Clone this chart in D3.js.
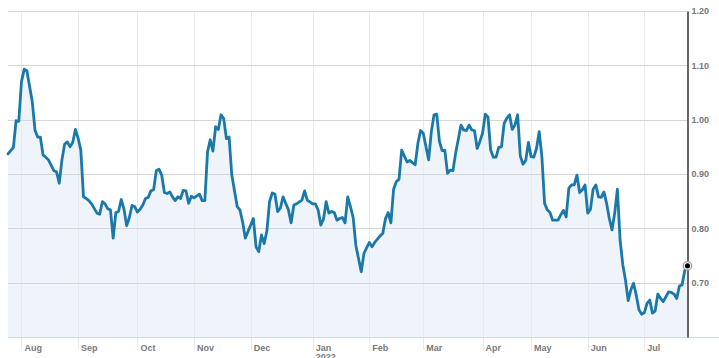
<!DOCTYPE html>
<html><head><meta charset="utf-8">
<script src="https://cdn.jsdelivr.net/npm/d3@7"></script>
<style>html,body{margin:0;padding:0;background:#fff;overflow:hidden}svg{display:block}</style>
</head><body><svg id="c" width="719" height="358"></svg>
<script>
// trading-session index of each point and its price
const sessions = [0,2,3,4,5,6,7,9,10,11,12,13,14,15,17,18,19,20,21,22,23,24,25,26,27,28,29,30,31,33,34,35,36,37,38,39,40,41,42,43,44,45,46,47,48,49,50,51,52,53,54,55,56,57,58,59,60,61,62,63,64,65,66,67,68,69,71,72,73,74,75,76,77,78,79,80,81,82,83,85,86,87,88,89,91,92,93,94,95,96,97,98,99,100,101,102,104,105,106,107,109,110,111,113,114,115,116,117,118,119,120,121,122,123,124,125,126,127,128,129,131,132,134,135,136,138,139,140,141,142,143,144,145,146,148,149,150,151,152,153,154,156,157,158,159,160,161,162,163,164,165,166,167,168,169,170,171,172,173,174,175,176,177,178,179,180,181,182,183,184,185,186,187,188,189,190,191,192,193,194,195,196,197,198,199,200,201,202,204,205,206,207,208,209,210,211,212,213,214,215,216,217,218,219,220,221,222,223,224,225,226,227,228,229,230,231,232,233,234,235,236,237,238,239,240,241,242,243,244,245,246,247,248,249,250,251,252];
const prices = [.937,.949,.998,.997,1.070,1.093,1.090,1.033,.981,.968,.968,.935,.931,.926,.906,.904,.883,.926,.955,.959,.950,.958,.982,.966,.944,.858,.855,.851,.845,.828,.826,.849,.845,.836,.834,.782,.829,.831,.853,.836,.805,.820,.842,.840,.830,.835,.843,.855,.857,.869,.871,.906,.909,.898,.866,.864,.867,.858,.851,.858,.855,.870,.869,.846,.859,.856,.863,.851,.851,.941,.963,.942,.987,.982,1.009,1.002,.965,.968,.898,.840,.834,.812,.782,.794,.818,.766,.757,.788,.772,.795,.849,.865,.863,.831,.837,.858,.834,.810,.843,.845,.852,.869,.852,.845,.845,.834,.806,.817,.849,.828,.831,.829,.815,.818,.820,.810,.858,.840,.820,.769,.720,.754,.774,.766,.774,.786,.791,.818,.829,.810,.872,.886,.890,.944,.922,.925,.921,.917,.956,.980,.975,.926,.978,1.009,1.010,.960,.943,.944,.901,.907,.906,.938,.964,.990,.981,.980,.990,.981,.980,.947,.960,.975,1.010,1.005,.944,.931,.931,.949,.950,.993,1.003,1.009,.982,.990,1.009,.933,.918,.925,.958,.932,.931,.947,.978,.932,.846,.834,.829,.815,.815,.825,.833,.821,.874,.880,.880,.898,.866,.871,.880,.828,.835,.872,.880,.858,.857,.867,.846,.818,.797,.828,.872,.779,.733,.705,.667,.687,.699,.677,.650,.642,.645,.662,.668,.644,.648,.679,.671,.665,.674,.683,.682,.679,.671,.694,.696,.723,.731];
const monthLabels = ["Aug","Sep","Oct","Nov","Dec","Jan","Feb","Mar","Apr","May","Jun","Jul"];
const monthSessions = [5,26,48,69,90,113,134,154,176,194,215,236];
const yearLabel = {month:"Jan", text:"2022"};
const yTicks = [0.70,0.80,0.90,1.00,1.10,1.20];

const svg = d3.select("#c");
const x = d3.scaleLinear().domain([0,252]).range([8,687.5]);
const y = d3.scaleLinear().domain([0.6,1.2]).range([337,11]);
const data = sessions.map((s,i)=>({s, v:prices[i]}));

// area
svg.append("path").datum(data)
  .attr("fill","#eef4f9")
  .attr("d", d3.area().x(d=>x(d.s)).y0(y(0.6)).y1(d=>y(d.v)));

// vertical grid
svg.append("g").selectAll("line").data(monthSessions).join("line")
  .attr("x1",d=>Math.round(x(d))+0.5).attr("x2",d=>Math.round(x(d))+0.5)
  .attr("y1",y(1.2)).attr("y2",350)
  .attr("stroke","#e8ebee").attr("stroke-width",1);

// horizontal grid
svg.append("g").selectAll("line").data(yTicks).join("line")
  .attr("x1",x(0)).attr("x2",x(252))
  .attr("y1",d=>Math.round(y(d))+0.5).attr("y2",d=>Math.round(y(d))+0.5)
  .attr("stroke","#d6d6d6").attr("stroke-width",1.2);

// baseline
svg.append("line").attr("x1",x(0)).attr("x2",719)
  .attr("y1",y(0.6)+0.5).attr("y2",y(0.6)+0.5)
  .attr("stroke","#d3dbe2").attr("stroke-width",1);

// right axis
const yAxis = d3.axisRight(y).tickValues(yTicks).tickFormat(d3.format(".2f")).tickSize(0).tickPadding(4);
const ga = svg.append("g").attr("transform",`translate(${x(252)},0)`).call(yAxis);
ga.select(".domain").attr("stroke","#000").attr("stroke-width",1.2);
ga.selectAll("text").attr("font-family","Liberation Sans, Arial, sans-serif")
  .attr("font-size",9).attr("font-weight","bold").attr("fill","#777");

// month labels
const xa = svg.append("g").attr("font-family","Liberation Sans, Arial, sans-serif")
  .attr("font-size",9).attr("font-weight","bold").attr("fill","#7a7a7a");
xa.selectAll("text.m").data(monthLabels).join("text").attr("class","m")
  .attr("x",(d,i)=>x(monthSessions[i])+3).attr("y",350.5).text(d=>d);
xa.append("text").attr("x",x(monthSessions[monthLabels.indexOf(yearLabel.month)])+3)
  .attr("y",360).text(yearLabel.text);

// line
svg.append("path").datum(data)
  .attr("fill","none").attr("stroke","#1b79aa").attr("stroke-width",2.8)
  .attr("stroke-linejoin","round").attr("stroke-linecap","round")
  .attr("d", d3.line().x(d=>x(d.s)).y(d=>y(d.v)));

// last point marker
const last = data[data.length-1];
svg.append("circle").attr("cx",x(last.s)).attr("cy",y(last.v)).attr("r",4.2)
  .attr("fill","#fff").attr("stroke","#999").attr("stroke-width",1.2);
svg.append("circle").attr("cx",x(last.s)).attr("cy",y(last.v)).attr("r",2.6).attr("fill","#000");
</script></body></html>
